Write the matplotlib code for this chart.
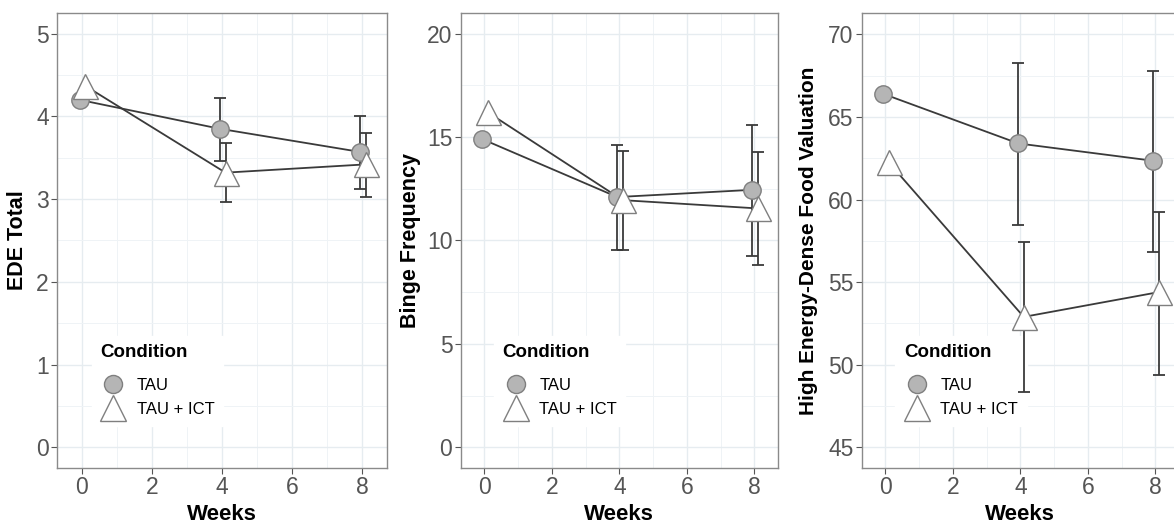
import matplotlib.pyplot as plt
from matplotlib.ticker import MultipleLocator
from matplotlib.lines import Line2D

# data
weeks = [0, 4, 8]
conditions = ['TAU', 'TAU + ICT']

ede_tau = [4.20, 3.85, 3.57]
ede_tau_lo = [4.20, 3.46, 3.12]
ede_tau_hi = [4.20, 4.22, 4.00]
ede_ict = [4.37, 3.32, 3.42]
ede_ict_lo = [4.37, 2.96, 3.02]
ede_ict_hi = [4.37, 3.68, 3.80]

binge_tau = [14.9, 12.1, 12.45]
binge_tau_lo = [14.9, 9.55, 9.25]
binge_tau_hi = [14.9, 14.6, 15.6]
binge_ict = [16.2, 11.95, 11.55]
binge_ict_lo = [16.2, 9.55, 8.8]
binge_ict_hi = [16.2, 14.35, 14.3]

food_tau = [66.4, 63.4, 62.35]
food_tau_lo = [66.4, 58.45, 56.8]
food_tau_hi = [66.4, 68.3, 67.8]
food_ict = [62.25, 52.9, 54.4]
food_ict_lo = [62.25, 48.35, 49.4]
food_ict_hi = [62.25, 57.45, 59.25]

plt.rcParams['font.family'] = ['Liberation Sans', 'DejaVu Sans']

line_col = '#3a3a3a'
edge_col = '#7f7f7f'
grid_col = '#e6ecf0'

fig = plt.figure(figsize=(11.74, 5.31), dpi=100)

panels = [
    (0.0486, 0.281, ede_tau, ede_tau_lo, ede_tau_hi, ede_ict, ede_ict_lo, ede_ict_hi,
     'EDE Total', (-0.25, 5.25), 1, 0.5, -0.088, 15.5),
    (0.3924, 0.2703, binge_tau, binge_tau_lo, binge_tau_hi, binge_ict, binge_ict_lo, binge_ict_hi,
     'Binge Frequency', (-1, 21), 5, 2.5, -0.125, 15.5),
    (0.734, 0.2703, food_tau, food_tau_lo, food_tau_hi, food_ict, food_ict_lo, food_ict_hi,
     'High Energy-Dense Food Valuation', (43.75, 71.3), 5, 2.5, -0.138, 15),
]

for (left, width, tau, tau_lo, tau_hi, ict, ict_lo, ict_hi,
     ylab, ylim, ymaj, ymin, labx, labsize) in panels:
    ax = fig.add_axes([left, 0.1186, width, 0.857])
    x_tau = [w - 0.06 for w in weeks]
    x_ict = [w + 0.10 for w in weeks]

    # error bars (only weeks 4 and 8 have visible bars)
    for xs, m, lo, hi in [(x_tau, tau, tau_lo, tau_hi), (x_ict, ict, ict_lo, ict_hi)]:
        yerr = [[mm - l for mm, l in zip(m, lo)], [h - mm for mm, h in zip(m, hi)]]
        ax.errorbar(xs[1:], m[1:], yerr=[yerr[0][1:], yerr[1][1:]], fmt='none',
                    ecolor=line_col, elinewidth=1.3, capsize=4.5, capthick=1.3, zorder=3)

    ax.plot(x_tau, tau, color=line_col, lw=1.3, zorder=4)
    ax.plot(x_ict, ict, color=line_col, lw=1.3, zorder=4)
    ax.plot(x_tau, tau, 'o', ms=12.5, mfc='#b5b5b5', mec=edge_col, mew=1.0, zorder=5)
    ax.plot(x_ict, ict, '^', ms=18, mfc='white', mec=edge_col, mew=1.0, zorder=5)

    ax.set_xlim(-0.7, 8.7)
    ax.set_ylim(*ylim)
    ax.xaxis.set_major_locator(MultipleLocator(2))
    ax.xaxis.set_minor_locator(MultipleLocator(1))
    ax.yaxis.set_major_locator(MultipleLocator(ymaj))
    ax.yaxis.set_minor_locator(MultipleLocator(ymin))
    ax.grid(True, which='major', color=grid_col, lw=1.0, zorder=0)
    ax.grid(True, which='minor', color='#eff3f6', lw=0.7, zorder=0)
    ax.set_axisbelow(True)
    ax.tick_params(which='major', length=4, width=0.8, color='#555555',
                   labelsize=16.5, labelcolor='#555555', pad=2)
    ax.tick_params(which='minor', length=0)
    for s in ax.spines.values():
        s.set_color('#8a8a8a')
        s.set_linewidth(1.0)

    ax.set_xlabel('Weeks', fontsize=16, fontweight='bold')
    ax.xaxis.set_label_coords(0.5, -0.08)
    ax.set_ylabel(ylab, fontsize=labsize, fontweight='bold')
    ax.yaxis.set_label_coords(labx, 0.5)

    handles = [
        Line2D([], [], ls='none', marker='o', ms=13, mfc='#b5b5b5', mec=edge_col),
        Line2D([], [], ls='none', marker='^', ms=19, mfc='white', mec=edge_col),
    ]
    leg = ax.legend(handles, conditions, title='Condition', loc='lower left',
                    bbox_to_anchor=(0.08, 0.075), frameon=True, fontsize=12,
                    title_fontproperties={'weight': 'bold', 'size': 13.5},
                    handletextpad=0.6, labelspacing=0.55, borderpad=0.5,
                    handlelength=1.6)
    leg._legend_box.align = 'left'
    leg._legend_box.sep = 12
    leg.set_zorder(2.5)
    leg.get_frame().set_facecolor('white')
    leg.get_frame().set_edgecolor('white')
    leg.get_frame().set_alpha(1)
    leg.get_frame().set_boxstyle('square', pad=0)

fig.savefig('out.png', dpi=100)
